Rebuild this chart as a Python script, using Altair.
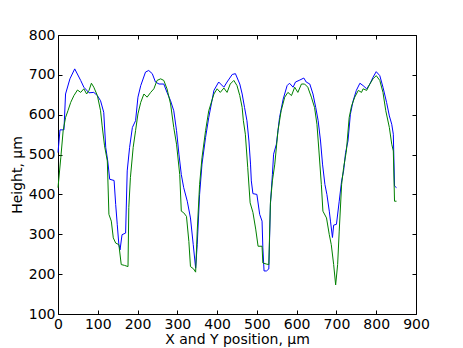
import altair as alt
import pandas as pd

x_blue = [0, 5, 15, 19, 30, 42, 57, 65, 78, 90, 99, 107, 115, 120, 125, 130, 141, 145, 149, 153, 156, 161, 170, 174, 180, 187, 195, 201, 208, 220, 228, 237, 245, 254, 266, 274, 283, 291, 298, 304, 310, 316, 325, 333, 340, 346, 350, 356, 362, 371, 379, 392, 404, 417, 425, 438, 446, 457, 463, 469, 475, 480, 484, 486, 490, 500, 507, 513, 515, 518, 524, 530, 534, 539, 542, 549, 557, 566, 576, 582, 591, 597, 608, 618, 624, 633, 641, 648, 654, 660, 665, 671, 676, 682, 685, 690, 693, 700, 707, 713, 718, 723, 729, 735, 742, 750, 759, 767, 776, 784, 792, 800, 809, 817, 826, 833, 839, 843, 846, 851]
y_blue = [505, 562, 562, 652, 690, 715, 686, 669, 655, 656, 648, 635, 606, 518, 484, 438, 435, 375, 324, 274, 261, 299, 303, 459, 518, 568, 585, 644, 673, 707, 711, 703, 682, 677, 677, 656, 635, 610, 560, 501, 450, 417, 383, 341, 274, 215, 274, 400, 476, 543, 593, 661, 682, 669, 682, 701, 703, 677, 652, 618, 585, 534, 476, 434, 402, 400, 350, 333, 266, 208, 208, 213, 375, 450, 501, 526, 593, 639, 673, 679, 669, 682, 687, 692, 682, 677, 652, 618, 585, 534, 476, 425, 400, 358, 333, 292, 323, 325, 383, 434, 459, 505, 534, 601, 635, 661, 679, 673, 665, 677, 694, 708, 698, 669, 631, 597, 576, 551, 421, 417]

x_green = [0, 7, 13, 19, 25, 32, 40, 49, 57, 65, 72, 78, 84, 90, 99, 107, 111, 117, 124, 128, 134, 139, 145, 153, 159, 167, 176, 178, 182, 189, 195, 201, 208, 216, 224, 233, 241, 249, 258, 266, 274, 283, 291, 298, 306, 310, 316, 323, 329, 333, 341, 346, 350, 356, 362, 371, 379, 392, 400, 408, 417, 425, 433, 442, 450, 457, 463, 466, 471, 477, 483, 490, 497, 503, 513, 515, 525, 530, 534, 539, 545, 553, 561, 570, 578, 587, 595, 603, 612, 620, 628, 637, 645, 651, 656, 662, 666, 675, 682, 687, 693, 698, 703, 707, 713, 718, 725, 732, 738, 746, 755, 763, 767, 776, 784, 792, 800, 809, 817, 824, 833, 839, 843, 846, 851]
y_green = [417, 492, 560, 593, 610, 631, 648, 662, 656, 665, 652, 661, 679, 669, 648, 610, 572, 522, 484, 350, 333, 291, 278, 274, 224, 222, 219, 367, 442, 518, 560, 602, 631, 652, 644, 656, 665, 686, 690, 686, 665, 627, 568, 526, 450, 358, 354, 345, 282, 219, 213, 205, 308, 425, 492, 560, 610, 652, 665, 656, 667, 656, 677, 686, 673, 648, 618, 585, 551, 467, 379, 355, 313, 270, 270, 228, 225, 224, 379, 434, 476, 560, 610, 644, 656, 648, 669, 656, 677, 677, 669, 644, 618, 576, 509, 425, 358, 341, 299, 274, 224, 173, 224, 308, 425, 467, 509, 593, 622, 644, 661, 656, 665, 661, 677, 690, 698, 686, 656, 610, 568, 526, 509, 383, 383]

x_ticks = [0, 100, 200, 300, 400, 500, 600, 700, 800, 900]
y_ticks = [100, 200, 300, 400, 500, 600, 700, 800]

blue = pd.DataFrame({"x": x_blue, "y": y_blue, "order": range(len(x_blue))})
green = pd.DataFrame({"x": x_green, "y": y_green, "order": range(len(x_green))})

FONT = "DejaVu Sans"
xscale = alt.Scale(domain=[0, 900], nice=False, zero=False)
yscale = alt.Scale(domain=[100, 800], nice=False, zero=False)

common_axis = dict(domain=False, grid=False, tickSize=4, offset=-4, tickColor="black",
                   labelFont=FONT, labelFontSize=14, labelColor="black",
                   titleFont=FONT, titleFontSize=14, titleColor="black",
                   titleFontWeight="normal")

blue_line = alt.Chart(blue).mark_line(color="#0000ff", strokeWidth=1, interpolate="linear").encode(
    x=alt.X("x:Q", scale=xscale,
            axis=alt.Axis(orient="bottom", values=x_ticks, title="X and Y position, μm",
                          labelPadding=3, titlePadding=1, labelFlush=False, **common_axis)),
    y=alt.Y("y:Q", scale=yscale,
            axis=alt.Axis(orient="left", values=y_ticks, title="Height, μm",
                          labelPadding=3, titlePadding=4, labelFlush=False, **common_axis)),
    order="order:Q",
)

green_line = alt.Chart(green).mark_line(color="#008000", strokeWidth=1, interpolate="linear").encode(
    x=alt.X("x:Q", scale=xscale,
            axis=alt.Axis(orient="top", values=x_ticks, title=None, labels=False, **common_axis)),
    y=alt.Y("y:Q", scale=yscale,
            axis=alt.Axis(orient="right", values=y_ticks, title=None, labels=False, **common_axis)),
    order="order:Q",
)

chart = alt.layer(blue_line, green_line).resolve_axis(x="independent", y="independent").properties(
    width=358, height=279,
    autosize=alt.AutoSizeParams(type="none"),
    padding={"left": 50, "top": 27, "right": 39, "bottom": 34},
    background="white",
).configure_view(stroke="black", strokeWidth=1)

chart.save("out.html", embed_options={"renderer": "svg", "actions": False})
